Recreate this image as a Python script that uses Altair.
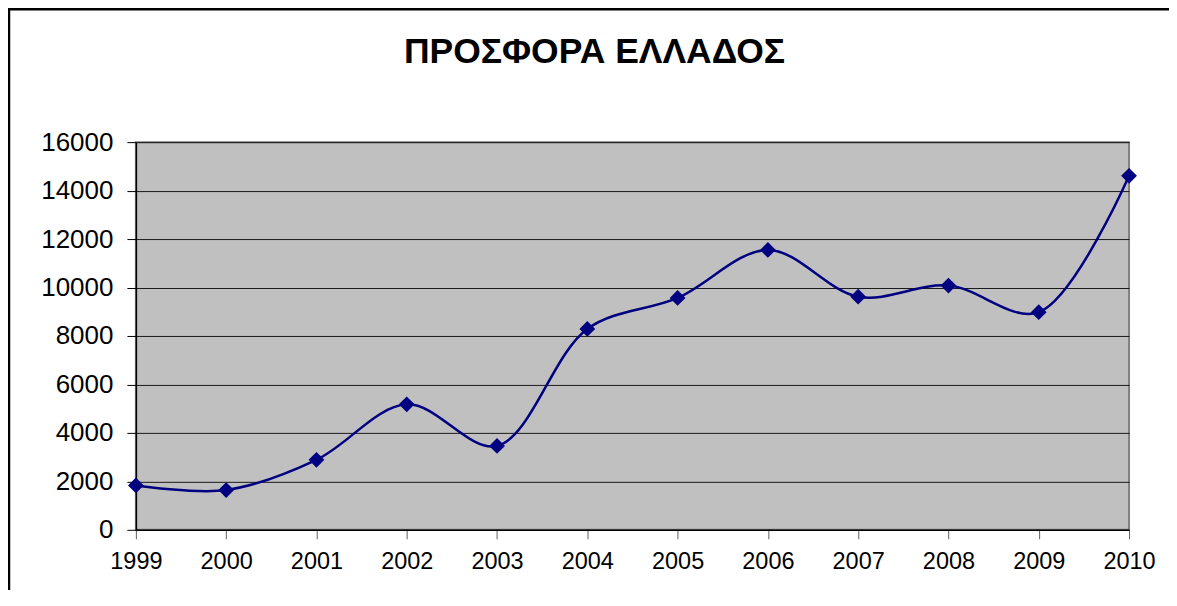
import altair as alt
import pandas as pd

TITLE = "ΠΡΟΣΦΟΡΑ ΕΛΛΑΔΟΣ"
years = [1999, 2000, 2001, 2002, 2003, 2004, 2005, 2006, 2007, 2008, 2009, 2010]
values = [1830, 1640, 2890, 5180, 3460, 8290, 9570, 11550, 9620, 10080, 8980, 14610]
y_ticks = [0, 2000, 4000, 6000, 8000, 10000, 12000, 14000, 16000]

df = pd.DataFrame({"year": years, "value": values})

FONT = "Liberation Sans"
NAVY = "#000080"

x = alt.X(
    "year:Q",
    scale=alt.Scale(domain=[1999, 2010], nice=False, zero=False),
    axis=alt.Axis(
        values=years, format="d", title=None, grid=False,
        labelFontSize=23.5, labelFont=FONT, labelColor="black",
        tickSize=9, tickColor="#606060", domainColor="black", domainWidth=1.5,
        labelPadding=11, labelFlush=False,
    ),
)
y = alt.Y(
    "value:Q",
    scale=alt.Scale(domain=[0, 16000], nice=False),
    axis=alt.Axis(
        values=y_ticks, format="d", title=None, grid=True, gridColor="#1a1a1a", gridWidth=1,
        labelFontSize=26, labelFont=FONT, labelColor="black",
        tickSize=9, tickColor="black", domainColor="black", domainWidth=1.5,
        labelPadding=14,
    ),
)

base = alt.Chart(df)
line = base.mark_line(color=NAVY, strokeWidth=2.5, interpolate="catmull-rom").encode(x=x, y=y)
pts = base.mark_point(shape="diamond", filled=True, color=NAVY, size=250, opacity=1).encode(x=x, y=y)

border = alt.Chart(pd.DataFrame({"b": [1]})).mark_rect(
    fill=None, stroke="black", strokeWidth=2.5
).encode(
    x=alt.value(-127), x2=alt.value(1200), y=alt.value(-133), y2=alt.value(700)
)

title = alt.Chart(pd.DataFrame({"t": [TITLE]})).mark_text(
    font=FONT, fontSize=35.5, fontWeight="bold", color="black",
    align="center", baseline="alphabetic",
).encode(text="t:N", x=alt.value(459), y=alt.value(-79))

chart = alt.layer(border, line, pts, title).properties(
    width=994,
    height=388,
    padding={"left": 128, "top": 134, "right": 40, "bottom": 60},
    autosize=alt.AutoSizeParams(type="none"),
).configure_view(
    fill="#C0C0C0", stroke="#808080", strokeWidth=2
)

chart.save("out.html", embed_options={"renderer": "svg", "actions": False})
